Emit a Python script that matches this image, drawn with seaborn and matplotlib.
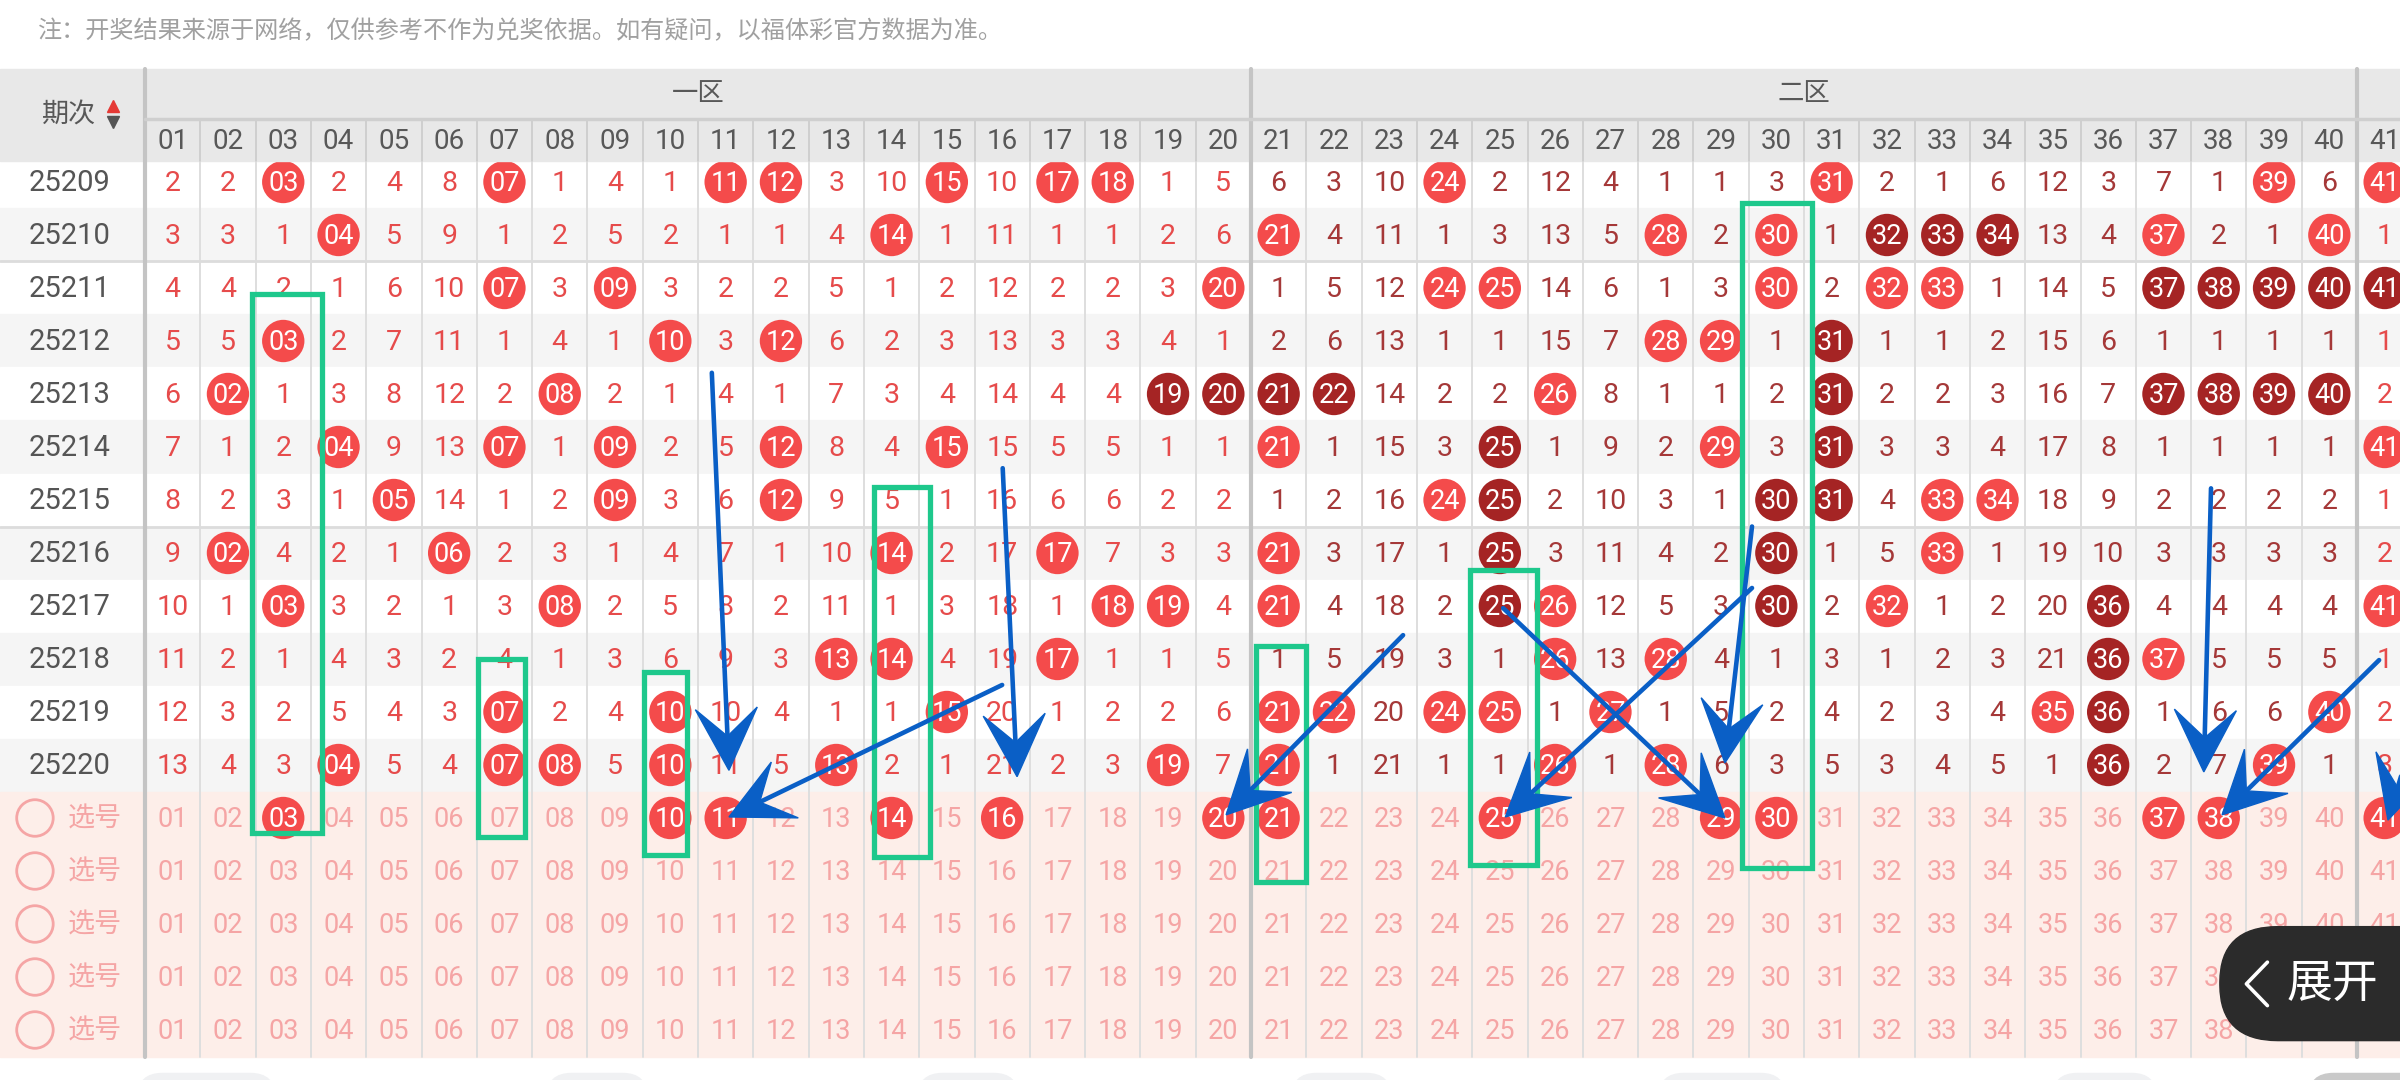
import numpy as np
import pandas as pd
import matplotlib
matplotlib.use("Agg")
import matplotlib.pyplot as plt
import seaborn as sns
from matplotlib.patches import Rectangle, FancyBboxPatch, Ellipse, Polygon

# ---- values ----
periods = ["25209", "25210", "25211", "25212", "25213", "25214",
           "25215", "25216", "25217", "25218", "25219", "25220"]

# columns 01..41 per period: R = drawn (red ball), D = drawn (dark ball), number = missing count
rows = [
    "2 2 R 2 4 8 R 1 4 1 R R 3 10 R 10 R R 1 5 6 3 10 R 2 12 4 1 1 3 R 2 1 6 12 3 7 1 R 6 R",
    "3 3 1 R 5 9 1 2 5 2 1 1 4 R 1 11 1 1 2 6 R 4 11 1 3 13 5 R 2 R 1 D D D 13 4 R 2 1 R 1",
    "4 4 2 1 6 10 R 3 R 3 2 2 5 1 2 12 2 2 3 R 1 5 12 R R 14 6 1 3 R 2 R R 1 14 5 D D D D D",
    "5 5 R 2 7 11 1 4 1 R 3 R 6 2 3 13 3 3 4 1 2 6 13 1 1 15 7 R R 1 D 1 1 2 15 6 1 1 1 1 1",
    "6 R 1 3 8 12 2 R 2 1 4 1 7 3 4 14 4 4 D D D D 14 2 2 R 8 1 1 2 D 2 2 3 16 7 D D D D 2",
    "7 1 2 R 9 13 R 1 R 2 5 R 8 4 R 15 5 5 1 1 R 1 15 3 D 1 9 2 R 3 D 3 3 4 17 8 1 1 1 1 R",
    "8 2 3 1 R 14 1 2 R 3 6 R 9 5 1 16 6 6 2 2 1 2 16 R D 2 10 3 1 D D 4 R R 18 9 2 2 2 2 1",
    "9 R 4 2 1 R 2 3 1 4 7 1 10 R 2 17 R 7 3 3 R 3 17 1 D 3 11 4 2 D 1 5 R 1 19 10 3 3 3 3 2",
    "10 1 R 3 2 1 3 R 2 5 8 2 11 1 3 18 1 R R 4 R 4 18 2 D R 12 5 3 D 2 R 1 2 20 D 4 4 4 4 R",
    "11 2 1 4 3 2 4 1 3 6 9 3 R R 4 19 R 1 1 5 1 5 19 3 1 R 13 R 4 1 3 1 2 3 21 D R 5 5 5 1",
    "12 3 2 5 4 3 R 2 4 R 10 4 1 1 R 20 1 2 2 6 R R 20 R R 1 R 1 5 2 4 2 3 4 R D 1 6 6 R 2",
    "13 4 3 R 5 4 R R 5 R 11 5 R 2 1 21 2 3 R 7 R 1 21 1 1 R 1 R 6 3 5 3 4 5 1 D 2 7 R 1 3",
]
n_cols = 41
picked = [3, 10, 11, 14, 16, 20, 21, 25, 29, 30, 37, 38, 41]   # first 选号 row
n_pick_rows = 5
zone_names = ["一区", "二区"]
zone_spans = [(1, 20), (21, 40)]
note = "注：开奖结果来源于网络，仅供参考不作为兑奖依据。如有疑问，以福体彩官方数据为准。"

# hand-drawn marks in (column, row) units
boxes = [(2.44, 3.70, 2.12, 12.28), (6.52, 7.37, 9.0, 12.36), (9.52, 10.3, 9.24, 12.7),
         (13.68, 14.7, 5.76, 12.73), (20.59, 21.5, 8.75, 13.2), (24.46, 25.67, 7.33, 12.89),
         (29.38, 30.64, 0.40, 12.95)]
arrows = [(10.75, 3.6, 11.06, 11.1), (16.0, 9.49, 11.06, 11.98), (16.01, 5.4, 16.27, 11.22),
          (23.25, 8.55, 20.05, 11.94), (25.06, 8.04, 29.07, 12.0), (29.56, 7.66, 25.1, 11.98),
          (29.56, 6.5, 29.07, 10.96), (37.86, 5.78, 37.73, 11.13), (40.9, 9.02, 38.06, 11.94),
          (41.3, 11.2, 41.06, 12.04)]
bottom_tabs = [(0.37, 2.85), (7.77, 9.58), (14.48, 16.29), (21.24, 23.03), (27.88, 30.16), (35.0, 36.87)]

# ---- colours ----
RED_BALL, DARK_BALL = "#f44b4b", "#a52424"
ZONE1_TXT, ZONE2_TXT = "#e64b4b", "#a53838"
PICK_TXT, PICK_BG = "#f5a5a5", "#fdeee9"
HEAD_BG, HEAD_TXT = "#e8e8e8", "#585858"
GREEN, BLUE = "#1ec88c", "#0a5fc6"

sns.set_theme(style="white")
plt.rcParams["font.family"] = ["Roboto", "Noto Sans CJK SC", "DejaVu Sans"]
CJK = ["Noto Sans CJK SC", "DejaVu Sans"]

# layout: one axes over the whole figure, x = column number, y = row number (down)
col_w, row_h, left_px, row0_px = 55.3, 53.0, 145.0, 182.0
x_lo, x_hi = (0 - left_px) / col_w + 0.5, (2400 - left_px) / col_w + 0.5
y_lo, y_hi = (0 - row0_px) / row_h, (1080 - row0_px) / row_h
head_top, head_mid, head_bot = (69 - row0_px) / row_h, (119 - row0_px) / row_h, (161 - row0_px) / row_h

fig = plt.figure(figsize=(24, 10.8), dpi=100)
ax = fig.add_axes([0, 0, 1, 1])

# cells table
recs = []
for r, line in enumerate(rows):
    for c, tok in enumerate(line.split(), start=1):
        recs.append({"row": r, "col": c, "tok": tok})
cells = pd.DataFrame(recs)
n_rows = len(periods)

balls = cells[cells.tok.isin(["R", "D"])].copy()
balls["kind"] = balls.tok.map({"R": "red", "D": "dark"})
pick_df = pd.DataFrame({"row": n_rows, "col": picked, "kind": "red"})
balls = pd.concat([balls[["row", "col", "kind"]], pick_df], ignore_index=True)

# row backgrounds
for r in range(n_rows):
    ax.add_patch(Rectangle((x_lo, r - 0.5), x_hi - x_lo, 1,
                           color="white" if r % 2 == 0 else "#f5f5f5", zorder=0))
ax.add_patch(Rectangle((x_lo, n_rows - 0.5), x_hi - x_lo, n_pick_rows, color=PICK_BG, zorder=0))
table_bot = n_rows + n_pick_rows - 0.5

# grid lines
for k in range(n_cols + 1):
    xe = k + 0.5
    if xe in (0.5, 20.5, 40.5):
        ax.plot([xe, xe], [head_top, table_bot], color="#c4c4c4", lw=3, zorder=3.6)
    else:
        ax.plot([xe, xe], [head_mid, table_bot], color="#dedede", lw=1.4, zorder=1)
for ye in (1.5, 6.5):
    ax.plot([x_lo, x_hi], [ye, ye], color="#dcdcdc", lw=2, zorder=1)

# balls
sns.scatterplot(data=balls, x="col", y="row", hue="kind",
                palette={"red": RED_BALL, "dark": DARK_BALL},
                s=930, linewidth=0, legend=False, ax=ax, zorder=3)

# numbers inside the grid
for rec in cells.itertuples():
    if rec.tok in ("R", "D"):
        ax.text(rec.col, rec.row + 0.02, f"{rec.col:02d}", color="white", fontsize=19.5,
                ha="center", va="center", zorder=4)
    else:
        clr = ZONE2_TXT if 21 <= rec.col <= 40 else ZONE1_TXT
        ax.text(rec.col, rec.row + 0.02, rec.tok, color=clr, fontsize=20.5,
                ha="center", va="center", zorder=4)
for r, p in enumerate(periods):
    ax.text(-0.86, r + 0.02, p, color="#555555", fontsize=21, ha="center", va="center", zorder=4)

# 选号 rows
for i in range(n_pick_rows):
    r = n_rows + i
    ax.add_patch(Ellipse((-1.49, r), 0.66, 0.69, fill=False, ec=PICK_TXT, lw=2, zorder=4))
    ax.text(-0.40, r + 0.02, "选号", color=PICK_TXT, fontsize=19.5, family=CJK,
            ha="center", va="center", zorder=4)
    for c in range(1, n_cols + 1):
        if i == 0 and c in picked:
            ax.text(c, r + 0.02, f"{c:02d}", color="white", fontsize=19.5,
                    ha="center", va="center", zorder=4)
        else:
            ax.text(c, r + 0.02, f"{c:02d}", color=PICK_TXT, fontsize=19.5,
                    ha="center", va="center", zorder=4)

# header
ax.add_patch(Rectangle((x_lo, head_top), x_hi - x_lo, head_bot - head_top, color=HEAD_BG, zorder=3.5))
ax.plot([0.5, x_hi], [head_mid, head_mid], color="#cfcfcf", lw=2.5, zorder=3.6)
for k in range(n_cols + 1):
    xe = k + 0.5
    if xe not in (0.5, 20.5, 40.5):
        ax.plot([xe, xe], [head_mid, head_bot], color="#cfcfcf", lw=1.4, zorder=3.6)
for name, (a, b) in zip(zone_names, zone_spans):
    ax.text((a + b) / 2, (head_top + head_mid) / 2, name, color=HEAD_TXT, fontsize=19,
            family=CJK, ha="center", va="center", zorder=4.5)
for c in range(1, n_cols + 1):
    ax.text(c, (head_mid + head_bot) / 2 + 0.02, f"{c:02d}", color=HEAD_TXT, fontsize=20,
            ha="center", va="center", zorder=4.5)
ax.text(-0.87, (head_top + head_bot) / 2, "期次", color=HEAD_TXT, fontsize=19.5, family=CJK,
        ha="center", va="center", zorder=4.5)
ax.plot([-0.08], [-1.43], marker="^", ms=9, color="#e53935", zorder=4.5)
ax.plot([-0.08], [-1.13], marker="v", ms=9, color="#555555", zorder=4.5)

# note line
ax.text(-1.44, -2.85, note, color="#a0a0a0", fontsize=17.4, family=CJK, ha="left", va="center")

# bottom tab tops
for a, b in bottom_tabs:
    ax.add_patch(FancyBboxPatch((a, 16.82), b - a, 1.0, boxstyle="round,pad=0,rounding_size=0.45",
                                color="#f0f1f3", zorder=1))
ax.add_patch(FancyBboxPatch((39.63, 16.82), 3.0, 1.0, boxstyle="round,pad=0,rounding_size=0.45",
                            color="#c9c9c9", zorder=1))

ax.set_xlim(x_lo, x_hi)
ax.set_ylim(y_hi, y_lo)
ax.axis("off")

# green boxes
for x0, x1, y0, y1 in boxes:
    ax.add_patch(Rectangle((x0, y0), x1 - x0, y1 - y0, fill=False, ec=GREEN, lw=3.8, zorder=5))

# blue arrows with barbed heads
tr = ax.transData
for x0, y0, x1, y1 in arrows:
    p0, p1 = tr.transform([(x0, y0), (x1, y1)])
    d = (p1 - p0) / np.linalg.norm(p1 - p0)
    n = np.array([-d[1], d[0]])
    L, Wd = 62.0, 31.0
    back = tr.inverted().transform(p1 - 0.5 * L * d)
    ax.plot([x0, back[0]], [y0, back[1]], color=BLUE, lw=3.3, solid_capstyle="round", zorder=6)
    head = np.array([p1, p1 - L * d + Wd * n, p1 - 0.55 * L * d, p1 - L * d - Wd * n])
    ax.add_patch(Polygon(tr.inverted().transform(head), closed=True, color=BLUE, zorder=6))

# 展开 button
ax.add_patch(FancyBboxPatch((38.02, 14.05), 5.0, 2.15, boxstyle="round,pad=0,rounding_size=1.05",
                            color="#2b2b2b", zorder=7))
ax.plot([38.88, 38.5, 38.88], [14.72, 15.13, 15.54], color="white", lw=2.6, zorder=8)
ax.text(40.05, 15.13, "展开", color="white", fontsize=33, family=CJK, ha="center", va="center", zorder=8)

fig.savefig("out.png", dpi=100)
